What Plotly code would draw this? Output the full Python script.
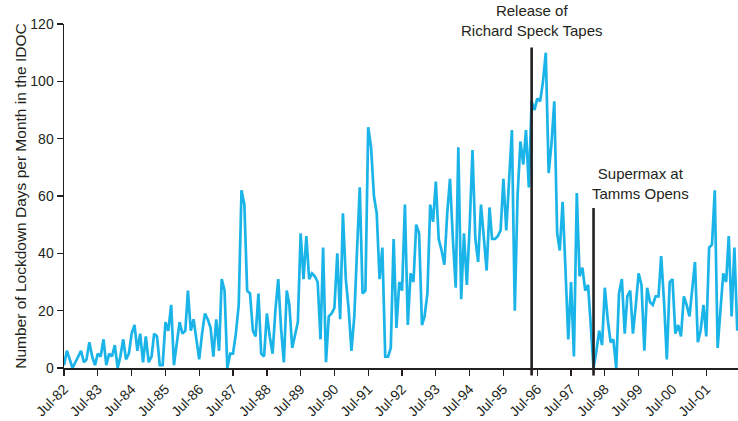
import pandas as pd
import plotly.graph_objects as go

start_month = "1982-07-01"
lockdown_days = [
    1, 6, 3, 0, 2, 4, 6, 2, 3, 9, 4, 1,
    5, 4, 10, 1, 5, 4, 8, 0, 4, 10, 3, 5,
    12, 15, 6, 12, 2, 11, 2, 4, 12, 11, 1, 1,
    16, 13, 22, 1, 8, 16, 12, 13, 27, 13, 17, 10,
    3, 12, 19, 17, 14, 4, 17, 6, 31, 27, 0, 5,
    5, 12, 22, 62, 57, 27, 26, 13, 11, 26, 5, 4,
    19, 11, 5, 20, 31, 14, 2, 27, 22, 7, 11, 16,
    47, 31, 46, 31, 33, 32, 30, 10, 42, 2, 18, 19,
    21, 40, 17, 54, 31, 21, 6, 18, 40, 63, 26, 27,
    84, 77, 60, 54, 31, 42, 4, 4, 7, 45, 14, 30,
    27, 57, 15, 33, 30, 50, 47, 15, 18, 26, 57, 51,
    65, 45, 41, 36, 54, 66, 45, 28, 77, 24, 47, 29,
    49, 76, 45, 37, 57, 45, 34, 56, 45, 45, 46, 48,
    66, 48, 65, 83, 20, 60, 79, 71, 83, 63, 93, 90,
    94, 93, 100, 110, 68, 78, 93, 47, 41, 58, 35, 10,
    30, 4, 61, 32, 35, 27, 29, 14, 0, 6, 13, 8,
    28, 17, 9, 10, 0, 26, 31, 12, 25, 27, 12, 22,
    33, 29, 6, 28, 23, 22, 25, 25, 39, 23, 3, 30,
    31, 12, 15, 11, 25, 22, 18, 28, 37, 9, 13, 22,
    11, 42, 43, 62, 7, 20, 33, 30, 46, 18, 42, 13,
]
months = pd.date_range(start_month, periods=len(lockdown_days), freq="MS")

tick_dates = pd.date_range("1982-07-01", "2001-07-01", freq="12MS")
tick_labels = [d.strftime("Jul-%y") for d in tick_dates]

events = ["1996-05-01", "1998-03-01"]
event_labels = ["Release of<br>Richard Speck Tapes", "Supermax at<br>Tamms Opens"]
event_tops = [0.932, 0.465]
label_y = [0.952, 0.478]
label_x = ["1996-05-01", "1999-07-20"]

FONT = "Liberation Sans, Arial, Helvetica, sans-serif"
INK = "#231f20"

fig = go.Figure()
fig.add_trace(go.Scatter(
    x=months, y=lockdown_days, mode="lines",
    line=dict(color="#1ab4e8", width=2.7),
    hoverinfo="skip", showlegend=False,
))

for ev, top in zip(events, event_tops):
    fig.add_shape(type="line", xref="x", yref="paper",
                  x0=ev, x1=ev, y0=-0.022, y1=top,
                  line=dict(color=INK, width=2.6))

for txt, xx, yy in zip(event_labels, label_x, label_y):
    fig.add_annotation(x=xx, y=yy, xref="x", yref="paper", text=txt,
                       showarrow=False, xanchor="center", yanchor="bottom",
                       font=dict(family=FONT, size=15, color=INK))

fig.update_layout(
    width=738, height=421,
    margin=dict(l=64, r=0, t=24, b=53),
    paper_bgcolor="white", plot_bgcolor="white",
    font=dict(family=FONT, size=14, color=INK),
)
fig.update_xaxes(
    range=[months[0], months[-1] + pd.Timedelta(days=8)],
    tickvals=tick_dates, ticktext=tick_labels, tickangle=-45,
    showgrid=False, zeroline=False,
    showline=True, linecolor=INK, linewidth=1.5,
    ticks="outside", ticklen=6, tickcolor=INK, tickwidth=1.3,
    tickfont=dict(size=14, color=INK),
)
fig.update_yaxes(
    range=[0, 120], tickvals=[0, 20, 40, 60, 80, 100, 120],
    showgrid=False, zeroline=False,
    showline=True, linecolor=INK, linewidth=1.5,
    ticks="outside", ticklen=6, tickcolor=INK, tickwidth=1.3,
    tickfont=dict(size=14, color=INK),
    title=dict(text="Number of Lockdown Days per Month in the IDOC",
               font=dict(size=15.5, color=INK), standoff=0),
)

fig.write_html("out.html",
               config={"displayModeBar": False, "staticPlot": True},
               post_script="document.body.style.margin='0px';document.body.style.overflow='hidden';")
